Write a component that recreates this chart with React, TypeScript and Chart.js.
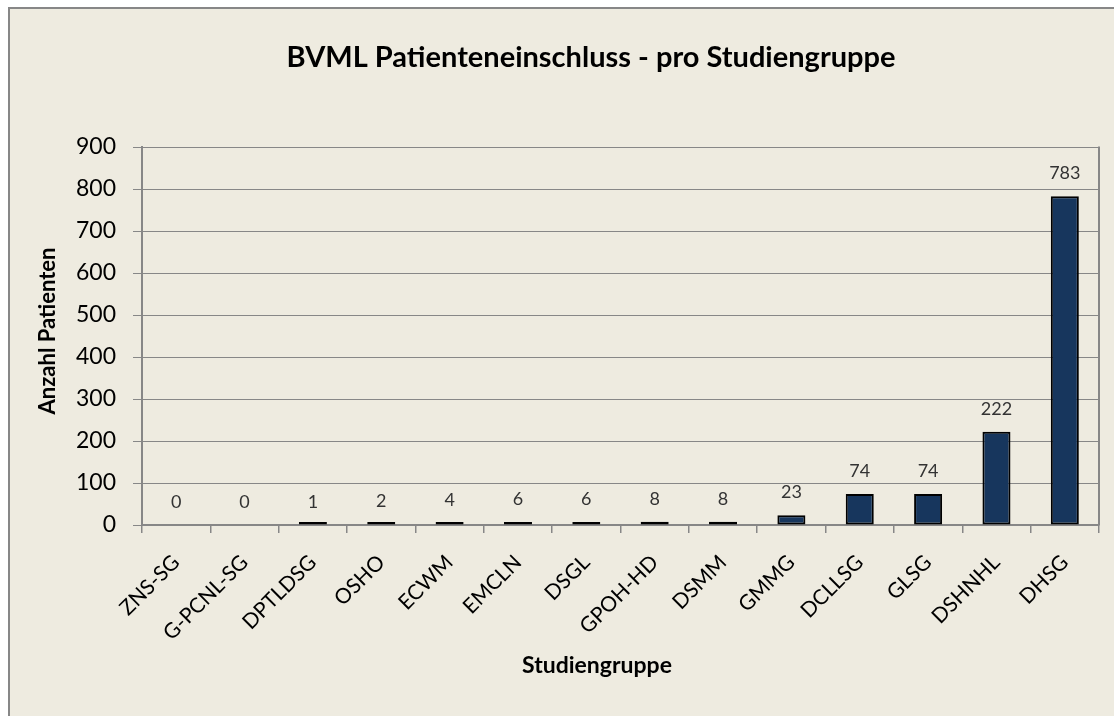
import React, { useEffect, useRef } from "react";
import { Chart, registerables } from "chart.js";

Chart.register(...registerables);

// ---- data ----
const categories = [
  "ZNS-SG",
  "G-PCNL-SG",
  "DPTLDSG",
  "OSHO",
  "ECWM",
  "EMCLN",
  "DSGL",
  "GPOH-HD",
  "DSMM",
  "GMMG",
  "DCLLSG",
  "GLSG",
  "DSHNHL",
  "DHSG",
];
const patients = [0, 0, 1, 2, 4, 6, 6, 8, 8, 23, 74, 74, 222, 783];
const yMin = 0;
const yMax = 900;
const yStep = 100;
const chartTitle = "BVML Patienteneinschluss - pro Studiengruppe";
const xAxisTitle = "Studiengruppe";
const yAxisTitle = "Anzahl Patienten";

// ---- styles ----
const FONT = "Lato, 'Open Sans', sans-serif";
const GRID = "#878787";
const BAR = "#17365D";
const BG = "#EEEBE0";

const overlayPlugin = {
  id: "overlay",
  afterDraw(chart: any) {
    const { ctx, chartArea } = chart;
    const xs = chart.scales.x;
    const ys = chart.scales.y;
    ctx.save();

    // plot area right border
    ctx.strokeStyle = GRID;
    ctx.lineWidth = 2;
    ctx.beginPath();
    ctx.moveTo(chartArea.right, chartArea.top - 0.5);
    ctx.lineTo(chartArea.right, chartArea.bottom + 0.5);
    ctx.stroke();

    // data labels
    ctx.font = `18px ${FONT}`;
    ctx.fillStyle = "#333333";
    ctx.textAlign = "center";
    ctx.textBaseline = "alphabetic";
    patients.forEach((v, i) => {
      const x = xs.getPixelForValue(i);
      const y = ys.getPixelForValue(v);
      ctx.fillText(String(v), x, y - 17);
    });

    // chart title
    ctx.fillStyle = "#000";
    ctx.font = `bold 29px ${FONT}`;
    ctx.textAlign = "center";
    ctx.fillText(chartTitle, 581, 58);

    // x axis title
    ctx.font = `bold 23px ${FONT}`;
    ctx.fillText(xAxisTitle, 587, 664);

    // y axis title
    ctx.save();
    ctx.translate(45, 322);
    ctx.rotate(-Math.PI / 2);
    ctx.font = `bold 22px ${FONT}`;
    ctx.textAlign = "center";
    ctx.fillText(yAxisTitle, 0, 0);
    ctx.restore();

    ctx.restore();
  },
};

export default function App() {
  const canvasRef = useRef<HTMLCanvasElement | null>(null);

  useEffect(() => {
    const canvas = canvasRef.current;
    if (!canvas) return;
    const chart = new Chart(canvas, {
      type: "bar",
      data: {
        labels: categories,
        datasets: [
          {
            data: patients.map((v) => (v === 0 ? null : v)),
            backgroundColor: BAR,
            borderColor: "#000",
            borderWidth: 2,
            borderSkipped: false,
            barPercentage: 0.41,
            categoryPercentage: 1,
            minBarLength: 3,
          },
        ],
      },
      options: {
        animation: false,
        responsive: false,
        maintainAspectRatio: false,
        devicePixelRatio: 1,
        layout: { padding: { top: 138, right: 15, left: 0, bottom: 0 } },
        plugins: {
          legend: { display: false },
          title: { display: false },
          tooltip: { enabled: false },
        },
        scales: {
          x: {
            ticks: {
              font: { family: FONT, size: 21 },
              color: "#000",
              maxRotation: 45,
              minRotation: 45,
              autoSkip: false,
              padding: 17,
            },
            grid: {
              display: true,
              drawOnChartArea: false,
              drawTicks: true,
              tickLength: 8,
              color: GRID,
              lineWidth: 1.5,
              offset: true,
            },
            border: { display: true, color: GRID, width: 1.5 },
            afterFit: (s: any) => {
              s.height = 191;
            },
          },
          y: {
            min: yMin,
            max: yMax,
            ticks: {
              stepSize: yStep,
              font: { family: FONT, size: 23 },
              color: "#000",
              padding: 17,
            },
            grid: {
              color: GRID,
              lineWidth: 1,
              tickLength: 9,
              drawTicks: true,
            },
            border: { display: true, color: GRID, width: 2 },
            afterFit: (s: any) => {
              s.width = 132;
            },
          },
        },
      },
      plugins: [overlayPlugin],
    });
    return () => chart.destroy();
  }, []);

  return (
    <div
      style={{
        position: "absolute",
        left: 8,
        top: 7,
        width: 1106,
        height: 709,
        boxSizing: "border-box",
        borderLeft: `2px solid ${GRID}`,
        borderTop: `2px solid ${GRID}`,
        background: BG,
        overflow: "hidden",
      }}
    >
      <canvas
        ref={canvasRef}
        width={1104}
        height={707}
        style={{ display: "block", width: 1104, height: 707 }}
      />
    </div>
  );
}
